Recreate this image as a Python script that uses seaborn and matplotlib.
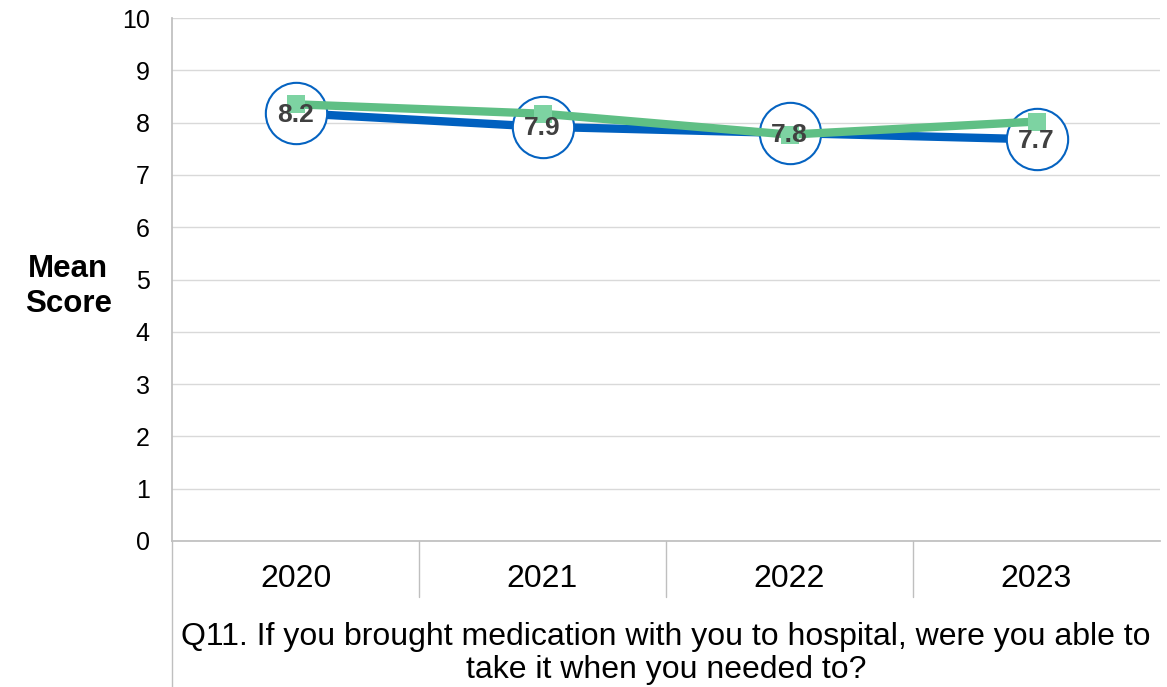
import pandas as pd
import matplotlib
matplotlib.use("Agg")
import matplotlib.pyplot as plt
import seaborn as sns

# data
years = ["2020", "2021", "2022", "2023"]
trust_scores = [8.18, 7.92, 7.80, 7.68]      # blue line, labelled
national_scores = [8.35, 8.17, 7.77, 8.02]   # green line
score_labels = ["8.2", "7.9", "7.8", "7.7"]
question = "Q11. If you brought medication with you to hospital, were you able to\ntake it when you needed to?"

sns.set_theme(style="white")
plt.rcParams["font.family"] = ["Liberation Sans", "DejaVu Sans"]
plt.rcParams["text.color"] = "black"

df = pd.DataFrame({"pos": range(len(years)), "year": years,
                   "trust": trust_scores, "national": national_scores})

fig = plt.figure(figsize=(11.67, 6.87), dpi=100)
ax = fig.add_axes([172 / 1167, 1 - 541 / 687, (1160 - 172) / 1167, (541 - 18) / 687])

# blue line first, circles over it, green on top
sns.lineplot(data=df, x="pos", y="trust", color="#0060BF", linewidth=6, ax=ax, zorder=3)
ax.scatter(df["pos"], df["trust"], s=1950, facecolor="white", edgecolor="#0563C1",
           linewidth=1.5, zorder=4)
sns.lineplot(data=df, x="pos", y="national", color="#5FBF85", linewidth=6, ax=ax, zorder=5)
ax.scatter(df["pos"], df["national"], s=170, marker="s", color="#7DD3A2", zorder=6,
           linewidth=0)
for x, y, lab in zip(df["pos"], df["trust"], score_labels):
    ax.text(x, y - 0.03, lab, ha="center", va="center", fontsize=19, fontweight="bold",
            color="#404040", zorder=7)

ax.set_xlim(-0.5, len(years) - 0.5)
ax.set_ylim(0, 10)
ax.set_yticks(range(0, 11))
ax.tick_params(axis="y", labelsize=18, labelcolor="black", pad=16, length=0)
ax.set_xticks([])
ax.set_xlabel("")
ax.set_ylabel("")
ax.yaxis.grid(True, color="#D9D9D9", linewidth=1)
ax.set_axisbelow(True)
for side in ["top", "right"]:
    ax.spines[side].set_visible(False)
ax.spines["bottom"].set_color("#BFBFBF")
ax.spines["left"].set_color("#BFBFBF")

ax.text(-0.105, 0.487, "Mean\nScore", transform=ax.transAxes, ha="center", va="center",
        fontsize=22.5, fontweight="bold", linespacing=1.2)

# category table under the axis
for i, yr in enumerate(years):
    ax.text((i + 0.5) / len(years), -0.072, yr, transform=ax.transAxes,
            ha="center", va="center", fontsize=23)
for i in range(1, len(years)):
    ax.plot([i / len(years)] * 2, [0, -0.107], transform=ax.transAxes,
            color="#BFBFBF", linewidth=1, clip_on=False)
ax.plot([0, 0], [0, -0.28], transform=ax.transAxes, color="#BFBFBF",
        linewidth=1, clip_on=False)
ax.text(0.5, -0.215, question, transform=ax.transAxes, ha="center", va="center",
        fontsize=23, linespacing=1.1)

fig.savefig("out.png", dpi=100)
